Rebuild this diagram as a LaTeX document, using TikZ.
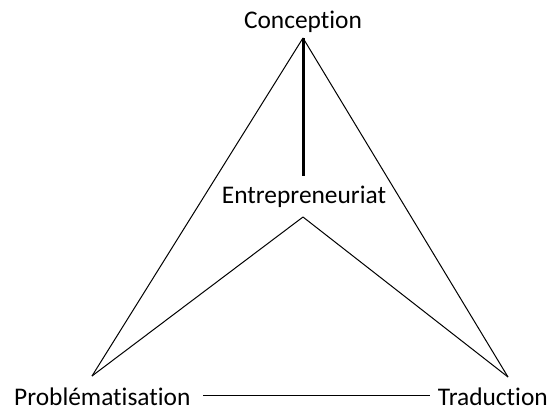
\documentclass[tikz,border=0pt]{standalone}
\usepackage{fontspec}
\setmainfont[Ligatures={NoCommon}]{Carlito}
\begin{document}
\begin{tikzpicture}[x=1pt,y=-1pt,
  lbl/.style={inner sep=0pt,anchor=base,font=\fontsize{25.4}{30}\selectfont},
  thin/.style={line width=1pt,black},
  thick/.style={line width=3pt,black}]
\useasboundingbox (0,0) rectangle (551,410);
\node[lbl] (conc) at (303,28) {Conception};
\node[lbl] (entr) at (304,203) {Entrepreneuriat};
\node[lbl,anchor=base west] (prob) at (14,405) {Problématisation};
\node[lbl,anchor=base east] (trad) at (548,405) {Traduction};
\coordinate (apex) at (303,38);
\coordinate (vend) at (303,176);
\coordinate (inner) at (303,217);
\coordinate (bl) at (92,376);
\coordinate (br) at (508,377);
\coordinate (hl) at (203,395);
\coordinate (hr) at (430,395);
\draw[thin] (apex) -- (bl);
\draw[thin] (apex) -- (br);
\draw[thin] (inner) -- (bl);
\draw[thin] (inner) -- (br);
\draw[thick] (apex) -- (vend);
\draw[thin] (hl) -- (hr);
\end{tikzpicture}
\end{document}
